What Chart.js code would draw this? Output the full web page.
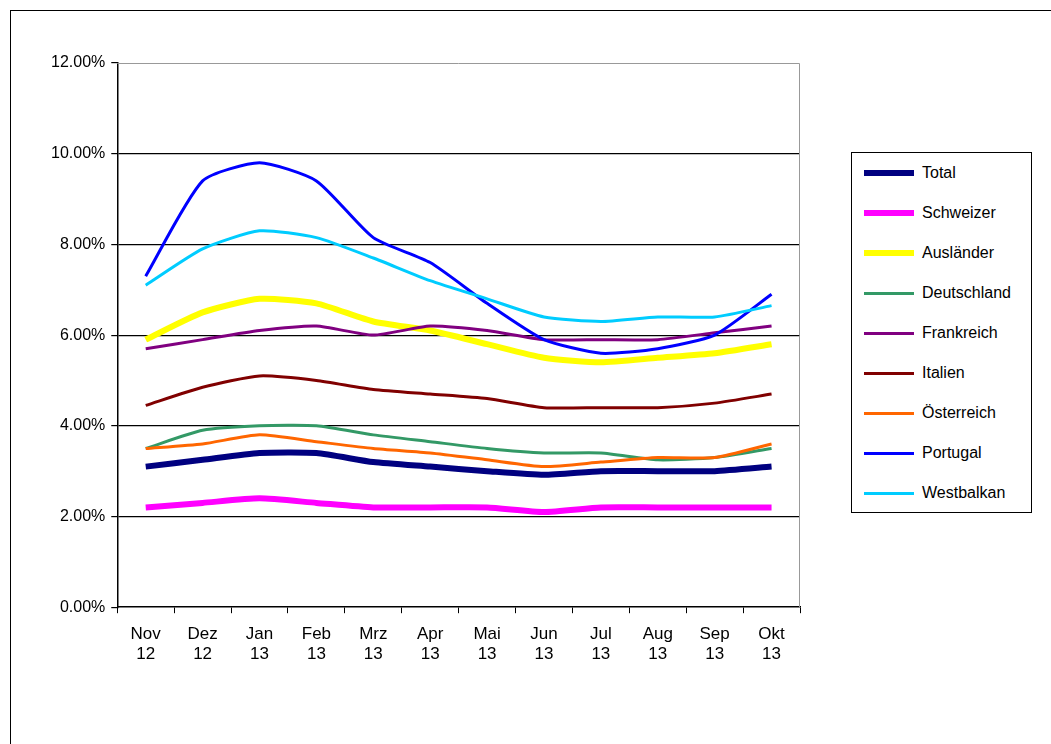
<!DOCTYPE html>
<html><head><meta charset="utf-8">
<script src="https://cdn.jsdelivr.net/npm/chart.js@4"></script>
<style>
body{margin:0;background:#fff;font-family:"Liberation Sans",Arial,sans-serif;}
#frame{position:absolute;left:10px;top:10px;width:1060px;height:760px;border:1.5px solid #000;}
#wrap{position:absolute;left:0;top:0;width:1051px;height:744px;}
#legend{position:absolute;left:851px;top:152px;width:179px;height:359px;border:1.5px solid #000;background:#fff;font-size:16px;}
.item{position:absolute;left:12px;height:20px;display:flex;align-items:center;}
.sw{width:50px;margin-right:8px;}
</style></head><body>
<div id="frame"></div>
<div id="wrap"><canvas id="c" width="1051" height="744"></canvas></div>
<div id="legend"></div>
<script>
const categories=[["Nov","12"],["Dez","12"],["Jan","13"],["Feb","13"],["Mrz","13"],["Apr","13"],["Mai","13"],["Jun","13"],["Jul","13"],["Aug","13"],["Sep","13"],["Okt","13"]];
const total=[3.1,3.25,3.4,3.4,3.2,3.1,3.0,2.92,3.0,3.0,3.0,3.1];
const schweizer=[2.2,2.3,2.4,2.3,2.2,2.2,2.2,2.1,2.2,2.2,2.2,2.2];
const auslaender=[5.9,6.5,6.8,6.7,6.3,6.1,5.8,5.5,5.4,5.5,5.6,5.8];
const deutschland=[3.5,3.9,4.0,4.0,3.8,3.65,3.5,3.4,3.4,3.25,3.3,3.5];
const frankreich=[5.7,5.9,6.1,6.2,6.0,6.2,6.1,5.9,5.9,5.9,6.05,6.2];
const italien=[4.45,4.85,5.1,5.0,4.8,4.7,4.6,4.4,4.4,4.4,4.5,4.7];
const oesterreich=[3.5,3.6,3.8,3.65,3.5,3.4,3.25,3.1,3.2,3.3,3.3,3.6];
const portugal=[7.3,9.4,9.8,9.4,8.15,7.6,6.7,5.9,5.6,5.7,6.0,6.9];
const westbalkan=[7.1,7.9,8.3,8.15,7.7,7.2,6.8,6.4,6.3,6.4,6.4,6.65];
const series=[
 ["Total",total,"#000080",6],["Schweizer",schweizer,"#FF00FF",6],["Ausländer",auslaender,"#FFFF00",6],
 ["Deutschland",deutschland,"#339966",3],["Frankreich",frankreich,"#800080",3],["Italien",italien,"#800000",3],
 ["Österreich",oesterreich,"#FF6600",3],["Portugal",portugal,"#0000FF",3],["Westbalkan",westbalkan,"#00CCFF",3]];
const lg=document.getElementById('legend');
series.forEach((s,i)=>{const d=document.createElement('div');d.className='item';d.style.top=(10+i*40)+'px';
d.innerHTML='<div class="sw" style="height:'+s[3]+'px;background:'+s[2]+'"></div>'+s[0];lg.appendChild(d);});
const border={id:'b',afterDraw(c){const a=c.chartArea,x=c.ctx;x.save();x.strokeStyle='#999';x.lineWidth=1;
x.beginPath();x.moveTo(a.left,a.top+0.5);x.lineTo(a.right-0.5,a.top+0.5);x.lineTo(a.right-0.5,a.bottom);x.stroke();x.restore();}};
Chart.defaults.font.family='"Liberation Sans",Arial,sans-serif';Chart.defaults.font.size=16;Chart.defaults.color='#000';
new Chart(document.getElementById('c'),{type:'line',
data:{labels:categories,datasets:series.slice().reverse().map(s=>({label:s[0],data:s[1],borderColor:s[2],borderWidth:s[3],pointRadius:0,tension:0.2,fill:false}))},
options:{responsive:false,animation:false,layout:{padding:{left:45,top:63,right:251,bottom:68}},
plugins:{legend:{display:false},tooltip:{enabled:false}},
scales:{y:{min:0,max:12,ticks:{stepSize:2,callback:v=>v.toFixed(2)+'%',padding:6},
 grid:{color:c=>(c.tick.value>0&&c.tick.value<12)?'#000':'rgba(0,0,0,0)',lineWidth:1.2,tickColor:'#000',tickLength:6},border:{color:'#000',width:1.5}},
 x:{offset:true,grid:{offset:true,drawOnChartArea:false,tickColor:'#000',tickLength:6},border:{color:'#000',width:1.5},ticks:{maxRotation:0,padding:11,font:{size:17}}}}},
plugins:[border]});
</script></body></html>
